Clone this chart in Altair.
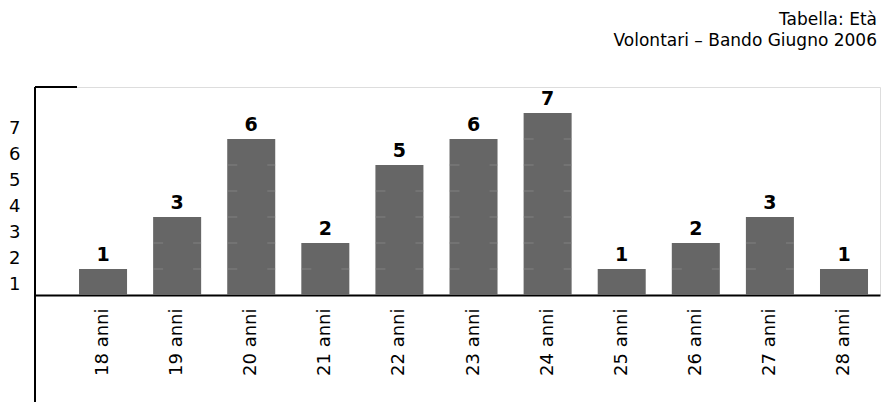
import altair as alt
import pandas as pd

categories = ["18 anni", "19 anni", "20 anni", "21 anni", "22 anni", "23 anni",
              "24 anni", "25 anni", "26 anni", "27 anni", "28 anni"]
counts = [1, 3, 6, 2, 5, 6, 7, 1, 2, 3, 1]
y_labels = [1, 2, 3, 4, 5, 6, 7]
title_lines = ["Tabella: Età", "Volontari – Bando Giugno 2006"]

FONT = "DejaVu Sans"
W, H = 845, 208

df = pd.DataFrame({"eta": categories, "n": counts})
units = pd.DataFrame([{"eta": c, "n": u} for c, v in zip(categories, counts) for u in range(1, v)])
one = pd.DataFrame({"k": [0]})

x_enc = alt.X("eta:N", sort=categories,
              scale=alt.Scale(domain=categories, paddingInner=0.352, paddingOuter=0.378, align=0.786),
              axis=alt.Axis(title=None, labelAngle=-90, labelAlign="right", labelBaseline="middle",
                            labelPadding=13, ticks=False, tickSize=0, domain=True, domainColor="black",
                            domainWidth=2, labelFont=FONT, labelFontSize=18, labelColor="black"))
y_enc = alt.Y("n:Q",
              scale=alt.Scale(domain=[0, 8], nice=False, zero=True),
              axis=alt.Axis(title=None, values=[v - 0.6 for v in y_labels],
                            labelExpr="'' + round(datum.value + 0.6)",
                            domain=False, ticks=False, tickSize=0, grid=False, labelPadding=15,
                            labelFont=FONT, labelFontSize=18, labelColor="black"))

bars = alt.Chart(df).mark_bar(color="#666666").encode(x=x_enc, y=y_enc)
ticks_l = alt.Chart(units).mark_tick(color="#8c8c8c", size=10, thickness=1, xOffset=-19).encode(x=x_enc, y=y_enc)
ticks_r = alt.Chart(units).mark_tick(color="#8c8c8c", size=8, thickness=1, xOffset=20).encode(x=x_enc, y=y_enc)
labels = alt.Chart(df).mark_text(font=FONT, fontSize=19, fontWeight="bold", color="black",
                                 baseline="bottom", dy=-4).encode(x=x_enc, y=y_enc, text="n:Q")

vline = alt.Chart(one).mark_rule(color="black", strokeWidth=2).encode(
    x=alt.value(0), y=alt.value(0), y2=alt.value(H + 120))
stub = alt.Chart(one).mark_rule(color="black", strokeWidth=2).encode(
    x=alt.value(0), x2=alt.value(42), y=alt.value(0))
t1 = alt.Chart(one).mark_text(font=FONT, fontSize=17, color="black", align="right", baseline="middle").encode(
    x=alt.value(W - 3), y=alt.value(-67), text=alt.value(title_lines[0]))
t2 = alt.Chart(one).mark_text(font=FONT, fontSize=17, color="black", align="right", baseline="middle").encode(
    x=alt.value(W - 3), y=alt.value(-46), text=alt.value(title_lines[1]))

chart = alt.layer(bars, ticks_l, ticks_r, labels, vline, stub, t1, t2).properties(
    width=W, height=H,
    autosize=alt.AutoSizeParams(type="none"),
    padding={"left": 27, "top": 79, "right": 1, "bottom": 107},
).configure_view(stroke=None).configure(background="white")

chart.save("out.html", embed_options={"renderer": "svg", "actions": False})
